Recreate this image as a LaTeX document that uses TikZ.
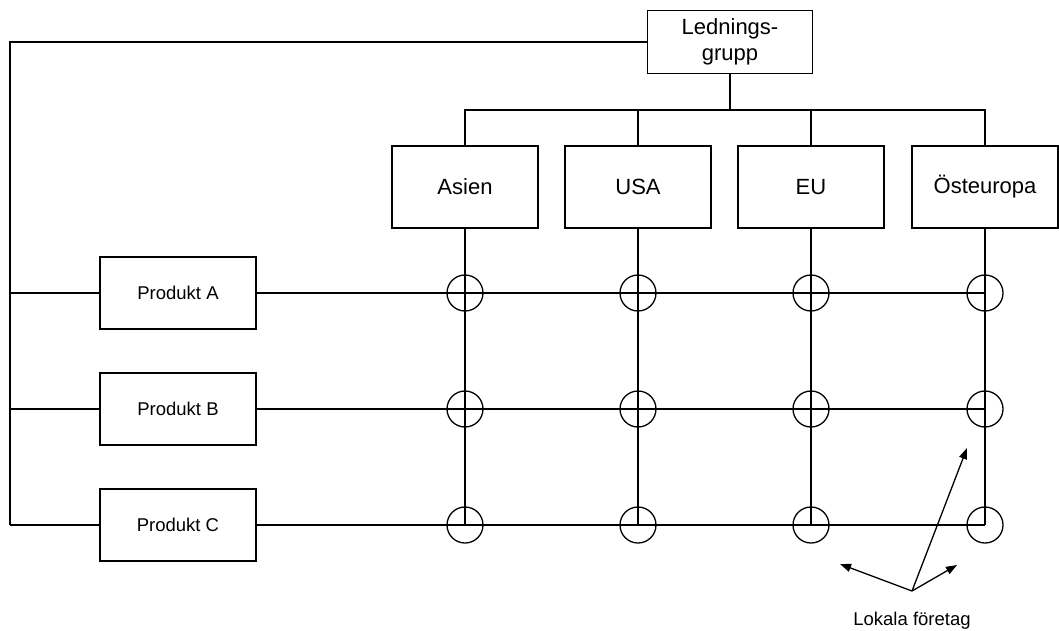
\documentclass[tikz,border=0pt]{standalone}
\usepackage{fontspec}
\setmainfont{Liberation Sans}
\usetikzlibrary{arrows.meta,calc}
\begin{document}
\begin{tikzpicture}[x=1pt,y=-1pt,line width=1.3pt,
  box/.style={draw,fill=white,inner sep=2pt},
  lgbox/.style={box,minimum width=165pt,minimum height=63pt,align=center,font=\fontsize{22}{26}\selectfont},
  regbox/.style={box,minimum width=146pt,minimum height=82pt,font=\fontsize{22}{25}\selectfont},
  prodbox/.style={box,minimum width=156pt,minimum height=72pt,font=\fontsize{18.5}{21}\selectfont},
  circ/.style={draw,circle,minimum size=36pt,inner sep=0pt},
  arr/.style={-{Triangle[length=11pt,width=8pt]},line width=1.3pt},
  lbl/.style={font=\fontsize{18.5}{21}\selectfont}]
\useasboundingbox (0,0) rectangle (1059,630);
% nodes
\node[lgbox] (lg) at (730,42) {Lednings-\\grupp};
\node[regbox] (asien) at (465,187) {Asien};
\node[regbox] (usa) at (638,187) {USA};
\node[regbox] (eu) at (811,187) {EU};
\node[regbox] (ost) at (985,187) {Östeuropa};
\node[prodbox] (pa) at (178,293) {Produkt A};
\node[prodbox] (pb) at (178,409) {Produkt B};
\node[prodbox] (pc) at (178,525) {Produkt C};
\coordinate (bus) at (730,110);
\coordinate (lc) at (10,525);
% circles
\foreach \r/\p in {a/pa,b/pb,c/pc}{
  \foreach \c/\reg in {1/asien,2/usa,3/eu,4/ost}{
    \node[circ] (c\r\c) at (\reg |- \p) {};
  }
}
% top bus
\draw (lg.south) -- (bus);
\draw (asien.north) |- (bus);
\draw (usa.north) |- (bus);
\draw (eu.north) |- (bus);
\draw (ost.north) |- (bus);
% left line
\draw (lg.west) -| (lc);
\draw (pa.west) -- (pa.west -| lc);
\draw (pb.west) -- (pb.west -| lc);
\draw (pc.west) -- (pc.west -| lc);
% grid
\draw (pa.east) -- (ca4.center);
\draw (pb.east) -- (cb4.center);
\draw (pc.east) -- (cc4.center);
\draw (asien.south) -- (cc1.center);
\draw (usa.south) -- (cc2.center);
\draw (eu.south) -- (cc3.center);
\draw (ost.south) -- (cc4.center);
% label and arrows
\node[lbl] (lok) at (912,621) {Lokala företag};
\coordinate (o) at (912,591);
\coordinate (t1) at (840,564);
\coordinate (t2) at (957,565);
\coordinate (t3) at (967,448);
\draw[arr] (o) -- (t1);
\draw[arr] (o) -- (t2);
\draw[arr] (o) -- (t3);
\end{tikzpicture}
\end{document}
